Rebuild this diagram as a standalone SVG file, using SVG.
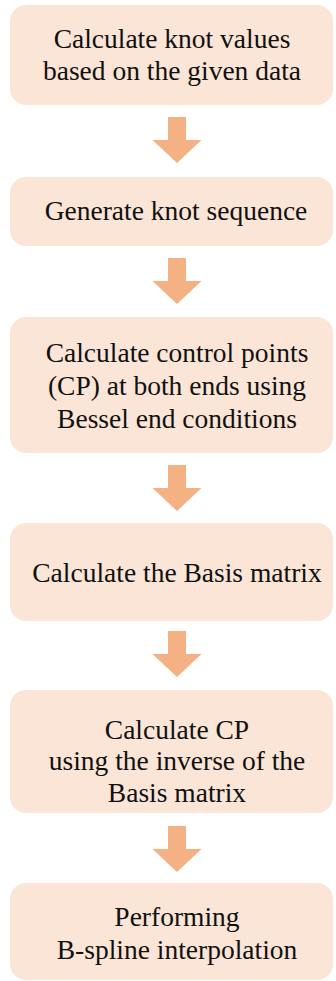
<svg xmlns="http://www.w3.org/2000/svg" width="336" height="981" viewBox="0 0 336 981">
<defs>
<style>
.box{fill:#FBE5D6;}
.arr{fill:#F4B183;}
.t{font-family:'Liberation Serif','DejaVu Serif',serif;font-size:27.5px;fill:#111;text-anchor:middle;}
</style>
<path id="ar" d="M-9,0 H9 V23 H24.5 L0,46 L-24.5,23 H-9 Z"/>
</defs>
<rect width="336" height="981" fill="#fff"/>
<g id="connectors" class="arr">
<use href="#ar" x="177" y="117"/>
<use href="#ar" x="177" y="258"/>
<use href="#ar" x="177" y="465"/>
<use href="#ar" x="177" y="631"/>
<use href="#ar" x="177" y="826"/>
</g>
<g id="n1"><rect class="box" x="10" y="5" width="323" height="100" rx="16"/>
<text class="t" x="172" y="48">Calculate knot values</text><text class="t" x="172" y="80">based on the given data</text></g>
<g id="n2"><rect class="box" x="10" y="177" width="323" height="69" rx="16"/>
<text class="t" x="176" y="220">Generate knot sequence</text></g>
<g id="n3"><rect class="box" x="10" y="317" width="323" height="136" rx="16"/>
<text class="t" x="177" y="362">Calculate control points</text><text class="t" x="177" y="395">(CP) at both ends using</text><text class="t" x="177" y="428">Bessel end conditions</text></g>
<g id="n4"><rect class="box" x="10" y="523" width="323" height="98" rx="16"/>
<text class="t" x="177" y="582">Calculate the Basis matrix</text></g>
<g id="n5"><rect class="box" x="10" y="690" width="323" height="123" rx="16"/>
<text class="t" x="177" y="739">Calculate CP</text><text class="t" x="177" y="770">using the inverse of the</text><text class="t" x="177" y="802">Basis matrix</text></g>
<g id="n6"><rect class="box" x="10" y="883" width="323" height="97" rx="16"/>
<text class="t" x="177" y="926">Performing</text><text class="t" x="177" y="959">B-spline interpolation</text></g>
</svg>
